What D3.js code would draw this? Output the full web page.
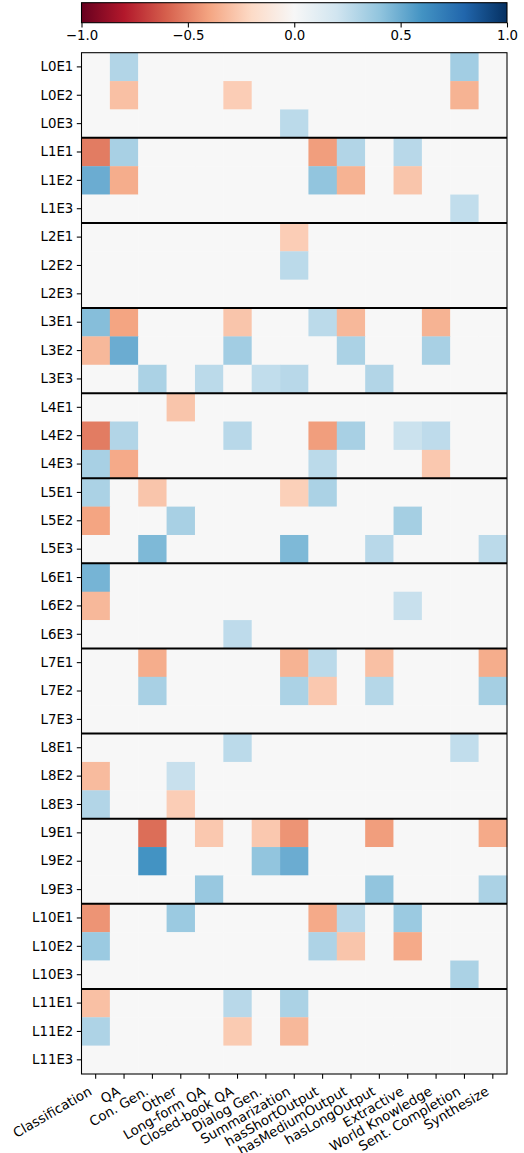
<!DOCTYPE html>
<html><head><meta charset="utf-8">
<script src="https://cdn.jsdelivr.net/npm/d3@7"></script>
<style>body{margin:0;background:#fff} text{font-family:"DejaVu Sans",sans-serif;}</style>
</head><body><svg id="c" width="524" height="1153"></svg>
<script>
const colLabels = ["Classification","QA","Con. Gen.","Other","Long-form QA","Closed-book QA","Dialog Gen.","Summarization","hasShortOutput","hasMediumOutput","hasLongOutput","Extractive","World Knowledge","Sent. Completion","Synthesize"];
const rowLabels = [];
for (let l = 0; l < 12; l++) for (let e = 1; e <= 3; e++) rowLabels.push("L" + l + "E" + e);
const colorTicks = [-1, -0.5, 0, 0.5, 1];
const colorTickLabels = ["\u22121.0", "\u22120.5", "0.0", "0.5", "1.0"];
// values, one row per label (columns in colLabels order)
const values = [
 [0,0.3,0,0,0,0,0,0,0,0,0,0,0,0.35,0],
 [0,-0.3,0,0,0,-0.25,0,0,0,0,0,0,0,-0.35,0],
 [0,0,0,0,0,0,0,0.27,0,0,0,0,0,0,0],
 [-0.52,0.33,0,0,0,0,0,0,-0.42,0.3,0,0.28,0,0,0],
 [0.5,-0.37,0,0,0,0,0,0,0.4,-0.35,0,-0.28,0,0,0],
 [0,0,0,0,0,0,0,0,0,0,0,0,0,0.25,0],
 [0,0,0,0,0,0,0,-0.25,0,0,0,0,0,0,0],
 [0,0,0,0,0,0,0,0.27,0,0,0,0,0,0,0],
 [0,0,0,0,0,0,0,0,0,0,0,0,0,0,0],
 [0.43,-0.4,0,0,0,-0.28,0,0,0.27,-0.33,0,0,-0.35,0,0],
 [-0.33,0.5,0,0,0,0.35,0,0,0,0.32,0,0,0.33,0,0],
 [0,0,0.32,0,0.27,0,0.25,0.28,0,0,0.3,0,0,0,0],
 [0,0,0,-0.28,0,0,0,0,0,0,0,0,0,0,0],
 [-0.52,0.3,0,0,0,0.28,0,0,-0.42,0.33,0,0.22,0.26,0,0],
 [0.33,-0.38,0,0,0,0,0,0,0.27,0,0,0,-0.27,0,0],
 [0.32,0,-0.28,0,0,0,0,-0.24,0.32,0,0,0,0,0,0],
 [-0.4,0,0,0.33,0,0,0,0,0,0,0,0.34,0,0,0],
 [0,0,0.45,0,0,0,0,0.45,0,0,0.28,0,0,0,0.27],
 [0.47,0,0,0,0,0,0,0,0,0,0,0,0,0,0],
 [-0.33,0,0,0,0,0,0,0,0,0,0,0.23,0,0,0],
 [0,0,0,0,0,0.26,0,0,0,0,0,0,0,0,0],
 [0,0,-0.37,0,0,0,0,-0.35,0.27,0,-0.3,0,0,0,-0.37],
 [0,0,0.33,0,0,0,0,0.32,-0.27,0,0.29,0,0,0,0.34],
 [0,0,0,0,0,0,0,0,0,0,0,0,0,0,0],
 [0,0,0,0,0,0.27,0,0,0,0,0,0,0,0.25,0],
 [-0.32,0,0,0.23,0,0,0,0,0,0,0,0,0,0,0],
 [0.3,0,0,-0.25,0,0,0,0,0,0,0,0,0,0,0],
 [0,0,-0.56,0,-0.27,0,-0.27,-0.45,0,0,-0.42,0,0,0,-0.38],
 [0,0,0.6,0,0,0,0.4,0.5,0,0,0,0,0,0,0],
 [0,0,0,0,0.38,0,0,0,0,0,0.4,0,0,0,0.32],
 [-0.45,0,0,0.37,0,0,0,0,-0.38,0.28,0,0.37,0,0,0],
 [0.37,0,0,0,0,0,0,0,0.31,-0.28,0,-0.38,0,0,0],
 [0,0,0,0,0,0,0,0,0,0,0,0,0,0.32,0],
 [-0.3,0,0,0,0,0.28,0,0.32,0,0,0,0,0,0,0],
 [0.31,0,0,0,0,-0.26,0,-0.33,0,0,0,0,0,0,0],
 [0,0,0,0,0,0,0,0,0,0,0,0,0,0,0]
];
const rdbu = ["#67001f","#b2182b","#d6604d","#f4a582","#fddbc7","#f7f7f7","#d1e5f0","#92c5de","#4393c3","#2166ac","#053061"];

const svg = d3.select("#c");
const L = 81.5, R = 507, T = 52.7, B = 1074;
const x = d3.scaleBand().domain(colLabels).range([L, R]).padding(0);
const y = d3.scaleBand().domain(rowLabels).range([T, B]).padding(0);
const color = d3.scaleLinear().domain(d3.range(11).map(i => -1 + i * 0.2)).range(rdbu).interpolate(d3.interpolateRgb).clamp(true);

const cells = [];
values.forEach((row, i) => row.forEach((v, j) => cells.push({r: rowLabels[i], c: colLabels[j], v})));
svg.append("g").selectAll("rect").data(cells).join("rect")
  .attr("x", d => x(d.c)).attr("y", d => y(d.r))
  .attr("width", x.bandwidth() + 0.3).attr("height", y.bandwidth() + 0.3)
  .attr("fill", d => color(d.v));

// separators
const seps = rowLabels.filter((r, i) => i > 0 && i % 3 === 0);
svg.append("g").selectAll("line").data(seps).join("line")
  .attr("x1", L).attr("x2", R).attr("y1", d => y(d)).attr("y2", d => y(d))
  .attr("stroke", "#000").attr("stroke-width", 2);

// frame
svg.append("rect").attr("x", L).attr("y", T).attr("width", R - L).attr("height", B - T)
  .attr("fill", "none").attr("stroke", "#000").attr("stroke-width", 1.07);

// axes
const fs = "13.3px";
const yAxis = svg.append("g").attr("transform", `translate(${L},0)`)
  .call(d3.axisLeft(y).tickSize(4.7).tickPadding(3.5));
yAxis.select(".domain").remove();
yAxis.selectAll("text").attr("font-size", fs).attr("fill", "#000").attr("font-family", "DejaVu Sans");
yAxis.selectAll("line").attr("stroke", "#000").attr("stroke-width", 1.07);

const xAxis = svg.append("g").attr("transform", `translate(0,${B})`)
  .call(d3.axisBottom(x).tickSize(4.7).tickPadding(3.5));
xAxis.select(".domain").remove();
xAxis.selectAll("line").attr("stroke", "#000").attr("stroke-width", 1.07);
xAxis.selectAll("text").attr("font-size", fs).attr("fill", "#000").attr("font-family", "DejaVu Sans")
  .attr("text-anchor", "end").attr("y", 0).attr("dy", "0")
  .attr("transform", "translate(-3,20) rotate(-30)");

// colorbar
const cbT = 2.7, cbH = 20;
const cx = d3.scaleLinear().domain([-1, 1]).range([L, R]);
const defs = svg.append("defs");
const grad = defs.append("linearGradient").attr("id", "g").attr("x1", "0%").attr("x2", "100%").attr("y1", "0%").attr("y2", "0%");
grad.selectAll("stop").data(rdbu).join("stop")
  .attr("offset", (d, i) => (i * 10) + "%").attr("stop-color", d => d);
svg.append("rect").attr("x", L).attr("y", cbT).attr("width", R - L).attr("height", cbH)
  .attr("fill", "url(#g)").attr("stroke", "#000").attr("stroke-width", 1.07);
const cAxis = svg.append("g").attr("transform", `translate(0,${cbT + cbH})`)
  .call(d3.axisBottom(cx).tickValues(colorTicks).tickFormat((d, i) => colorTickLabels[i]).tickSize(4.7).tickPadding(3.5));
cAxis.select(".domain").remove();
cAxis.selectAll("line").attr("stroke", "#000").attr("stroke-width", 1.07);
cAxis.selectAll("text").attr("font-size", fs).attr("fill", "#000").attr("font-family", "DejaVu Sans");
</script></body></html>
